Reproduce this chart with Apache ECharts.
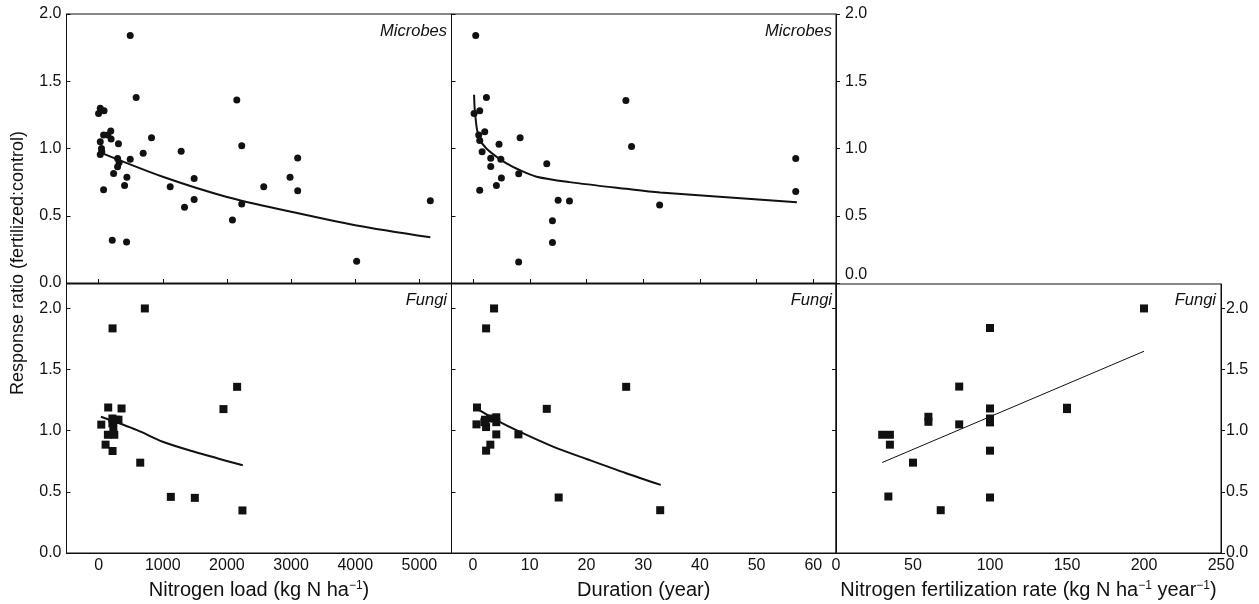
<!DOCTYPE html>
<html>
<head>
    <meta charset="utf-8">
    <title>ECharts</title>
    <script src="https://cdn.jsdelivr.net/npm/echarts@6/dist/echarts.min.js"></script>
    <style type="text/css">
        * { margin: 0; padding: 0; }
        body { background: #fff; }
    </style>
</head>
<body>
<div id="main" style="width: 1259px;height: 604px;"></div>
<script type="text/javascript">
        // 数据：从图上读出来的点
        var microbesLoad = [
            [493, 1.84], [586, 1.38], [2154, 1.36], [0, 1.26], [26, 1.30], [85, 1.28],
            [78, 1.10], [145, 1.10], [190, 1.13], [195, 1.07], [26, 1.05], [310, 1.035],
            [825, 1.08], [45, 1.0], [50, 0.975], [26, 0.955], [695, 0.965], [1287, 0.98],
            [2231, 1.02], [296, 0.925], [493, 0.92], [320, 0.895], [296, 0.865], [3103, 0.93],
            [234, 0.815], [441, 0.787], [405, 0.725], [78, 0.693], [1116, 0.715], [1489, 0.777],
            [1489, 0.621], [1339, 0.564], [2574, 0.715], [2984, 0.787], [3103, 0.686],
            [2231, 0.587], [2086, 0.468], [213, 0.317], [436, 0.304], [4022, 0.161], [5170, 0.612]
        ];
        var microbesLoadFit = [[80, 0.96], [1000, 0.79], [2000, 0.64], [3000, 0.53], [4000, 0.43], [5170, 0.34]];

        var microbesDur = [
            [0.47, 1.84], [2.36, 1.38], [26.95, 1.356], [0.18, 1.26], [1.18, 1.28], [1.0, 1.10],
            [2.06, 1.125], [1.18, 1.06], [4.58, 1.032], [8.3, 1.08], [27.95, 1.015], [1.6, 0.975],
            [3.12, 0.928], [4.9, 0.92], [3.12, 0.866], [13.0, 0.886], [56.9, 0.926], [8.05, 0.812],
            [5.0, 0.78], [4.12, 0.725], [1.18, 0.69], [56.9, 0.681], [15.0, 0.616], [17.0, 0.609],
            [32.9, 0.579], [14.0, 0.463], [14.0, 0.302], [8.04, 0.156]
        ];
        var microbesDurFit = [[0.18, 1.40], [0.3, 1.29], [0.7, 1.14], [1.2, 1.065], [2.35, 1.0], [4.1, 0.94],
            [5.9, 0.89], [8.2, 0.84], [11.2, 0.79], [17, 0.75], [27, 0.70], [33, 0.673], [57.1, 0.6]];

        var fungiLoad = [
            [721, 2.0], [218, 1.837], [2159, 1.359], [150, 1.19], [358, 1.182], [1946, 1.177],
            [42, 1.05], [215, 1.10], [265, 1.09], [310, 1.09], [215, 1.06], [230, 1.03],
            [145, 0.967], [245, 0.967], [109, 0.886], [218, 0.834], [649, 0.739], [1126, 0.459],
            [1500, 0.451], [2242, 0.348]
        ];
        var fungiLoadFit = [[36, 1.114], [600, 1.005], [1000, 0.91], [1480, 0.83], [2247, 0.717]];

        var fungiDur = [
            [3.7, 2.0], [2.3, 1.837], [27.0, 1.359], [0.7, 1.19], [13.0, 1.179], [0.6, 1.052],
            [2.1, 1.09], [3.0, 1.10], [4.1, 1.11], [4.1, 1.07], [2.3, 1.03], [2.0, 1.07],
            [4.1, 0.97], [8.0, 0.97], [3.05, 0.886], [2.3, 0.837], [15.1, 0.454], [33.0, 0.35]
        ];
        var fungiDurFit = [[0.88, 1.174], [4.1, 1.087], [8.2, 0.992], [14.1, 0.87], [20, 0.769], [27, 0.652], [33.1, 0.557]];

        var fungiRate = [
            [200, 2.0], [100, 1.84], [80, 1.361], [100, 1.182], [150, 1.188], [150, 1.177],
            [60, 1.114], [60, 1.073], [100, 1.1], [100, 1.068], [80, 1.052], [30, 0.967],
            [35, 0.967], [35, 0.886], [50, 0.739], [100, 0.837], [34, 0.462], [100, 0.454], [68, 0.35]
        ];
        var fungiRateFit = [[30, 0.74], [200, 1.65]];

        // 刻度
        var loadTicks = [0, 1000, 2000, 3000, 4000, 5000];
        var durTicks = [0, 10, 20, 30, 40, 50, 60];
        var rateTicks = [0, 50, 100, 150, 200, 250];
        var ratioTicks = [0, 0.5, 1, 1.5, 2];

        var ink = '#111';
        var font = 'Liberation Sans, Arial, Helvetica, sans-serif';

        var myChart = echarts.init(document.getElementById('main'));

        function grid(left, top, width, height) {
            return {
                left: left, top: top, width: width, height: height,
                containLabel: false, outerBoundsMode: 'none',
                show: true, borderColor: ink, borderWidth: 1, backgroundColor: 'transparent'
            };
        }

        function xAx(gi, min, max, ticks, showLabel, name) {
            var a = {
                type: 'value', gridIndex: gi, min: min, max: max,
                splitLine: { show: false },
                axisLine: { show: true, onZero: false, lineStyle: { color: ink, width: 1 } },
                axisTick: { show: !showLabel, inside: true, length: 4, customValues: ticks, lineStyle: { color: ink } },
                axisLabel: {
                    show: showLabel, customValues: ticks, margin: 5,
                    color: ink, fontSize: 16, fontFamily: font,
                    formatter: function (v) { return String(v); }
                }
            };
            if (name) {
                a.name = name;
                a.nameLocation = 'middle';
                a.nameGap = 27;
                a.nameTextStyle = {
                    color: ink, fontSize: 20, fontFamily: font, verticalAlign: 'top',
                    rich: { sup: { fontSize: 12, verticalAlign: 'top', color: ink, fontFamily: font } }
                };
            }
            return a;
        }

        function yAx(gi, max, pos, showLabel, tickInside, extra) {
            var a = {
                type: 'value', gridIndex: gi, min: 0, max: max, position: pos,
                splitLine: { show: false },
                axisLine: { show: true, onZero: false, lineStyle: { color: ink, width: 1 } },
                axisTick: { show: true, inside: tickInside, length: 4, customValues: ratioTicks, lineStyle: { color: ink } },
                axisLabel: {
                    show: showLabel, customValues: ratioTicks, margin: 5,
                    color: ink, fontSize: 16, fontFamily: font,
                    formatter: function (v) { return v.toFixed(1); }
                }
            };
            if (extra) {
                for (var k in extra) a.axisLabel[k] = extra[k];
            }
            return a;
        }

        function dots(xi, yi, data, sym) {
            return {
                type: 'scatter', xAxisIndex: xi, yAxisIndex: yi, data: data,
                symbol: sym, symbolSize: sym === 'rect' ? 8 : 7,
                itemStyle: { color: ink, opacity: 1 }, silent: true, z: 3
            };
        }

        function fit(xi, yi, data, w) {
            return {
                type: 'line', xAxisIndex: xi, yAxisIndex: yi, data: data,
                showSymbol: false, smooth: w > 1 ? 0.3 : false,
                lineStyle: { color: ink, width: w }, silent: true, z: 2
            };
        }

        function tag(x, y, txt) {
            return {
                type: 'text', x: x, y: y,
                style: {
                    text: txt, fill: ink, fontSize: 16.5, fontStyle: 'italic', fontFamily: font,
                    textAlign: 'right', textVerticalAlign: 'middle'
                }
            };
        }

        var option = {
            animation: false,
            grid: [
                grid(66.5, 14, 385, 269),
                grid(451.5, 14, 384.5, 269),
                grid(66.5, 284, 385, 269),
                grid(451.5, 284, 384.5, 269),
                grid(836, 284, 385, 269)
            ],
            xAxis: [
                xAx(0, -500, 5500, loadTicks, false),
                xAx(1, -3.8, 64, durTicks, false),
                xAx(2, -500, 5500, loadTicks, true, 'Nitrogen load (kg N ha{sup|\u22121})'),
                xAx(3, -3.8, 64, durTicks, true, 'Duration (year)'),
                xAx(4, 0, 250, rateTicks, true,
                    'Nitrogen fertilization rate (kg N ha{sup|\u22121} year{sup|\u22121})')
            ],
            yAxis: [
                yAx(0, 2, 'left', true, true),
                yAx(1, 2, 'left', false, true),
                yAx(1, 2, 'right', true, false, { verticalAlignMinLabel: 'bottom', margin: 9 }),
                yAx(2, 2.2, 'left', true, true),
                yAx(3, 2.2, 'left', false, true),
                yAx(4, 2.2, 'left', false, false),
                yAx(4, 2.2, 'right', true, false)
            ],
            series: [
                dots(0, 0, microbesLoad, 'circle'),
                fit(0, 0, microbesLoadFit, 2),
                dots(1, 1, microbesDur, 'circle'),
                fit(1, 1, microbesDurFit, 2),
                dots(2, 3, fungiLoad, 'rect'),
                fit(2, 3, fungiLoadFit, 2),
                dots(3, 4, fungiDur, 'rect'),
                fit(3, 4, fungiDurFit, 2),
                dots(4, 5, fungiRate, 'rect'),
                fit(4, 5, fungiRateFit, 1)
            ],
            graphic: [
                tag(447, 31, 'Microbes'),
                tag(832, 31, 'Microbes'),
                tag(447, 300, 'Fungi'),
                tag(832, 300, 'Fungi'),
                tag(1216, 300, 'Fungi'),
                {
                    type: 'text', x: 18, y: 263, rotation: Math.PI / 2,
                    style: {
                        text: 'Response ratio (fertilized:control)', fill: ink,
                        fontSize: 18, fontFamily: font,
                        textAlign: 'center', textVerticalAlign: 'middle'
                    }
                }
            ]
        };
        myChart.setOption(option);

        window.addEventListener('resize', function () {
            myChart.resize();
        });
</script>
</body>
</html>
